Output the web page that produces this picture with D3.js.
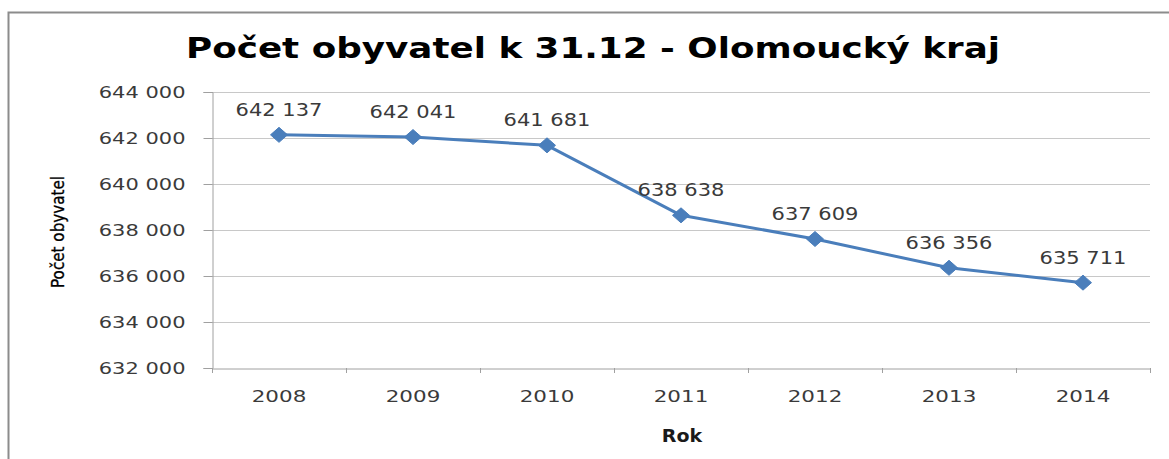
<!DOCTYPE html>
<html>
<head>
<meta charset="utf-8">
<script src="https://cdn.jsdelivr.net/npm/d3@7"></script>
<style>
  body { margin: 0; background: #fff; }
  text { font-family: "DejaVu Sans", sans-serif; }
</style>
</head>
<body>
<svg width="1169" height="459"></svg>
<script>
// Data
var years = ["2008", "2009", "2010", "2011", "2012", "2013", "2014"];
var population = [642137, 642041, 641681, 638638, 637609, 636356, 635711];
var yTicks = [632000, 634000, 636000, 638000, 640000, 642000, 644000];

var svg = d3.select("svg"),
    width = +svg.attr("width"),
    height = +svg.attr("height");

var plot = { left: 212, right: 1150, top: 92, bottom: 368 };

// thousands separated by a space, like the original
var fmt = function (v) { return d3.format(",")(v).replace(/,/g, " "); };

var x = d3.scaleBand()
    .domain(years)
    .range([plot.left, plot.right])
    .paddingInner(0)
    .paddingOuter(0);

var y = d3.scaleLinear()
    .domain([632000, 644000])
    .range([plot.bottom, plot.top]);

// Outer frame (only top and left edges visible)
svg.append("path")
    .attr("d", "M8.5," + height + "V12.5H" + width)
    .attr("fill", "none")
    .attr("stroke", "#8c8c8c")
    .attr("stroke-width", 2);

// Title
svg.append("text")
    .attr("x", 593)
    .attr("y", 58)
    .attr("text-anchor", "middle")
    .attr("font-size", 29)
    .attr("font-weight", "bold")
    .attr("fill", "#000")
    .attr("textLength", 814)
    .attr("lengthAdjust", "spacingAndGlyphs")
    .text("Počet obyvatel k 31.12 - Olomoucký kraj");

// Gridlines
svg.append("g")
    .attr("class", "grid")
    .selectAll("line")
    .data(yTicks.slice(1))
    .enter().append("line")
        .attr("x1", plot.left)
        .attr("x2", plot.right)
        .attr("y1", function (d) { return y(d) + 0.5; })
        .attr("y2", function (d) { return y(d) + 0.5; })
        .attr("stroke", "#c8c8c8")
        .attr("stroke-width", 1.2);

// Y axis
var sxTick = 1.4;
var yAxis = svg.append("g")
    .attr("transform", "translate(" + (plot.left + 0.5) + ",0)")
    .call(d3.axisLeft(y).tickValues(yTicks).tickSize(9).tickPadding(0).tickFormat(fmt));
yAxis.select(".domain").attr("stroke", "#a0a0a0");
yAxis.selectAll(".tick line").attr("stroke", "#a0a0a0");
yAxis.selectAll(".tick text")
    .attr("x", -27 / sxTick)
    .attr("dy", "0.36em")
    .attr("transform", "scale(" + sxTick + ",1)")
    .attr("font-size", 15)
    .attr("font-family", "DejaVu Sans")
    .attr("fill", "#3a3a3a");

// X axis
var sxX = 1.3;
var xAxis = svg.append("g")
    .attr("transform", "translate(0," + (plot.bottom + 0.5) + ")")
    .call(d3.axisBottom(x).tickSize(0).tickPadding(0));
xAxis.select(".domain").attr("stroke", "#a0a0a0");
xAxis.selectAll(".tick text")
    .attr("y", 0)
    .attr("dy", 34)
    .attr("transform", "scale(" + sxX + ",1)")
    .attr("font-size", 16.5)
    .attr("font-family", "DejaVu Sans")
    .attr("fill", "#3a3a3a");

// category boundary ticks
var bounds = years.map(function (d) { return x(d); }).concat([x.range()[1]]);
svg.append("g")
    .selectAll("line")
    .data(bounds)
    .enter().append("line")
        .attr("x1", function (d) { return d + 0.5; })
        .attr("x2", function (d) { return d + 0.5; })
        .attr("y1", plot.bottom)
        .attr("y2", plot.bottom + 5)
        .attr("stroke", "#a0a0a0");

// Axis titles
svg.append("text")
    .attr("transform", "translate(" + (x.range()[0] + (x.range()[1] - x.range()[0]) / 2 + 1) + ",442) scale(1.12,1)")
    .attr("text-anchor", "middle")
    .attr("font-size", 17)
    .attr("font-weight", "bold")
    .attr("fill", "#1a1a1a")
    .text("Rok");

svg.append("text")
    .attr("transform", "translate(64," + ((plot.top + plot.bottom) / 2 + 2) + ") rotate(-90) scale(1,1.25)")
    .attr("text-anchor", "middle")
    .attr("font-size", 14)
    .attr("fill", "#000")
    .attr("stroke", "#000")
    .attr("stroke-width", 0.25)
    .attr("textLength", 112)
    .attr("lengthAdjust", "spacingAndGlyphs")
    .text("Počet obyvatel");

// Line
var cx = function (d, i) { return x(years[i]) + x.bandwidth() / 2; };
var line = d3.line()
    .x(cx)
    .y(function (d) { return y(d); });

svg.append("path")
    .datum(population)
    .attr("d", line)
    .attr("fill", "none")
    .attr("stroke", "#4a7ebb")
    .attr("stroke-width", 3)
    .attr("stroke-linejoin", "round");

// Diamond markers
svg.append("g")
    .selectAll("path")
    .data(population)
    .enter().append("path")
        .attr("transform", function (d, i) { return "translate(" + cx(d, i) + "," + y(d) + ")"; })
        .attr("d", "M0,-7.5L8.5,0L0,7.5L-8.5,0Z")
        .attr("fill", "#4a7ebb")
        .attr("stroke", "#4a7ebb")
        .attr("stroke-width", 1);

// Data labels
var sxLabel = 1.2;
svg.append("g")
    .selectAll("text")
    .data(population)
    .enter().append("text")
        .attr("transform", function (d, i) {
            return "translate(" + cx(d, i) + "," + (y(d) - 19) + ") scale(" + sxLabel + ",1)";
        })
        .attr("text-anchor", "middle")
        .attr("font-size", 17.5)
        .attr("fill", "#3a3a3a")
        .text(fmt);
</script>
</body>
</html>
